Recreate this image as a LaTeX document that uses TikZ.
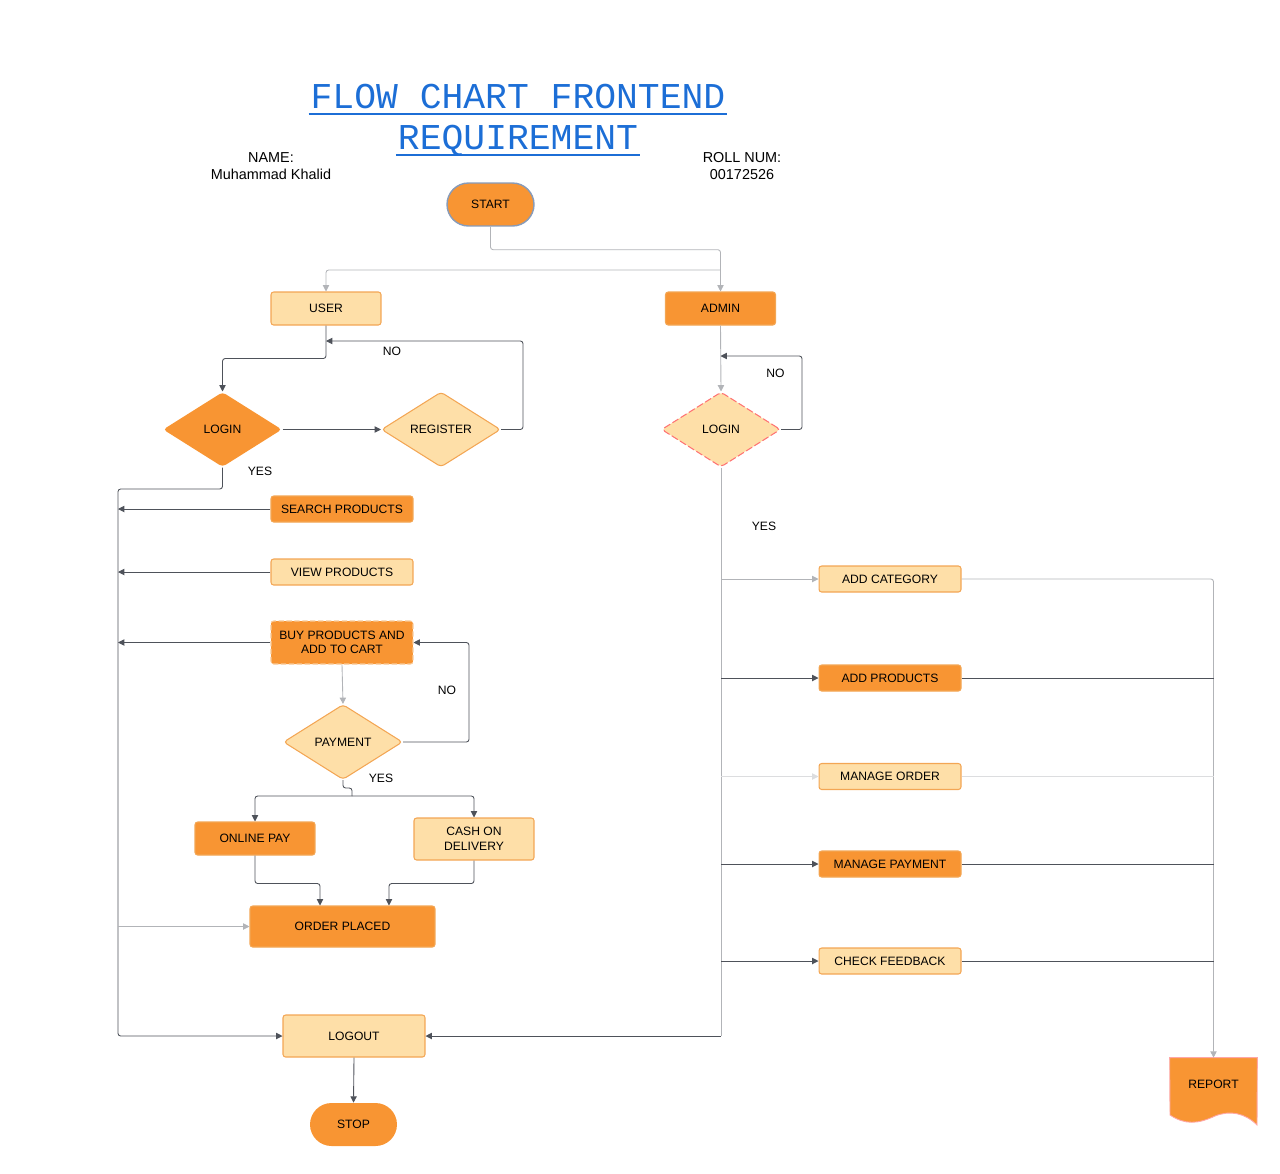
\documentclass[tikz,border=0pt]{standalone}
\usepackage{fontspec}
\setmainfont{Liberation Sans}
\newfontfamily\titlefont{Liberation Mono}
\usetikzlibrary{arrows.meta,shapes.geometric,positioning}
\definecolor{flowhot}{RGB}{248,149,51}
\definecolor{flowpale}{RGB}{254,223,168}
\definecolor{edgeorange}{RGB}{243,166,84}
\definecolor{linkdark}{RGB}{78,82,90}
\definecolor{linkfaint}{RGB}{178,180,184}
\definecolor{titleblue}{RGB}{28,110,214}
\definecolor{startedge}{RGB}{135,155,185}

\begin{document}
\begin{tikzpicture}[x=0.02cm,y=-0.02cm,>={Triangle[length=3.6pt,width=3.6pt]},
  font=\fontsize{6.9}{8.3}\selectfont,
  box/.style={rectangle,rounded corners=1.5pt,draw=edgeorange,line width=0.6pt,inner sep=1pt,align=center},
  hot/.style={box,fill=flowhot},
  pale/.style={box,fill=flowpale},
  terminal/.style={rectangle,rounded corners=0.43cm,fill=flowhot,minimum width=1.74cm,minimum height=0.86cm},
  decision/.style={diamond,aspect=1.6,rounded corners=2pt,line width=0.6pt,minimum width=2.38cm,minimum height=1.5cm,inner sep=0pt},
  slim/.style={minimum width=2.84cm,minimum height=0.52cm},
  link/.style={draw=linkdark,line width=0.5pt,rounded corners=1.5pt},
  faint/.style={link,draw=linkfaint},
  heading/.style={font=\titlefont\fontsize{20.7}{24}\selectfont,text=titleblue,inner sep=1pt,anchor=base},
  titleline/.style={draw=titleblue,line width=1pt}]
  \useasboundingbox (0,0) rectangle (1280,1173);
  % heading
  \node[heading] (titleA) at (518,108) {FLOW CHART FRONTEND};
  \node[heading] (titleB) at (518,149) {REQUIREMENT};
  \draw[titleline] ([yshift=-0.12cm]titleA.base west) -- ([yshift=-0.12cm]titleA.base east);
  \draw[titleline] ([yshift=-0.12cm]titleB.base west) -- ([yshift=-0.12cm]titleB.base east);
  \node[align=center,font=\fontsize{8.2}{9.7}\selectfont] (student) at (271,166) {NAME:\\Muhammad Khalid};
  \node[align=center,font=\fontsize{8.2}{9.7}\selectfont] (rollnum) at (742,166) {ROLL NUM:\\00172526};
  % start and the two roles
  \node[terminal,draw=startedge,line width=0.8pt] (start) at (490.5,204.5) {START};
  \node[pale,minimum width=2.2cm,minimum height=0.66cm] (user) at (326,308.5) {USER};
  \node[hot,minimum width=2.2cm,minimum height=0.66cm] (admin) at (720.5,308.5) {ADMIN};
  % user side
  \node[decision,fill=flowhot] (ulogin) at (222.5,429.5) {LOGIN};
  \node[decision,fill=flowpale,draw=edgeorange] (register) at (441,429.5) {REGISTER};
  \node[hot,slim] (search) at (342,509) {SEARCH PRODUCTS};
  \node[pale,slim] (view) at (342,572) {VIEW PRODUCTS};
  \node[hot,slim,minimum height=0.86cm,draw=edgeorange!60,dash pattern=on 3pt off 1.5pt] (buy) at (342,642.5) {BUY PRODUCTS AND\\ADD TO CART};
  \node[decision,fill=flowpale,draw=edgeorange] (payment) at (343,742) {PAYMENT};
  \node[hot,minimum width=2.4cm,minimum height=0.66cm] (online) at (255,838.5) {ONLINE PAY};
  \node[pale,minimum width=2.4cm,minimum height=0.84cm] (cod) at (474,839) {CASH ON\\DELIVERY};
  \node[hot,minimum width=3.7cm,minimum height=0.82cm] (placed) at (342.5,926.5) {ORDER PLACED};
  \node[pale,minimum width=2.84cm,minimum height=0.84cm] (logout) at (354,1036) {LOGOUT};
  \node[terminal] (stop) at (353.5,1124.5) {STOP};
  % admin side
  \node[decision,fill=flowpale,draw=red!55,dash pattern=on 4pt off 1.5pt] (alogin) at (721,429.5) {LOGIN};
  \node[pale,slim] (addcat) at (890,579) {ADD CATEGORY};
  \node[hot,slim] (addprod) at (890,678) {ADD PRODUCTS};
  \node[pale,slim] (morder) at (890,776.5) {MANAGE ORDER};
  \node[hot,slim] (mpay) at (890,864) {MANAGE PAYMENT};
  \node[pale,slim] (feedback) at (890,961) {CHECK FEEDBACK};
  % report: document shape
  \node[minimum width=1.74cm,minimum height=1.34cm,inner sep=0pt] (report) at (1213.5,1091.5) {};
  \filldraw[fill=flowhot,draw=red!35,line width=0.5pt] (report.north west) -- (report.north east) -- (1257,1125)
    .. controls (1245,1113) and (1230,1110) .. (1215,1116) .. controls (1198,1124) and (1185,1125) .. (1170,1115) -- cycle;
  \node (reportname) at (1213.5,1084.5) {REPORT};
  % helper points
  \coordinate (railtop) at (118,489);
  \coordinate (userback) at (326,341);
  \coordinate (adminback) at (720.5,356);
  \coordinate (split) at (352,796);
  % connectors
  \draw[faint,->] (start.south) -- ++(0,23) -| (admin.north);
  \draw[faint,->] (admin.north |- 0,270) -| (user.north);
  \draw[link,->] (user.south) -- ++(0,33) -| (ulogin.north);
  \draw[link,->] (ulogin.east) -- (register.west);
  \draw[link,->] (register.east) -- ++(22,0) |- (userback);
  \draw[link,->] (ulogin.south) |- (railtop) |- (logout.west);
  \draw[link,->] (search.west) -- (railtop |- search.west);
  \draw[link,->] (view.west) -- (railtop |- view.west);
  \draw[link,->] (buy.west) -- (railtop |- buy.west);
  \draw[faint,->] (railtop |- placed.west) -- (placed.west);
  \draw[faint,->] (buy.south) -- (payment.north);
  \draw[link,->] (payment.east) -- ++(66,0) |- (buy.east);
  \draw[link] (payment.south) -- ++(0,8) -| (split);
  \draw[link,->] (split) -| (online.north);
  \draw[link,->] (split) -| (cod.north);
  \draw[link,->] (online.south) -- ++(0,28) -| ([xshift=-0.45cm]placed.north);
  \draw[link,->] (cod.south) -- ++(0,23) -| ([xshift=0.93cm]placed.north);
  \draw[link,->] (logout.south) -- (stop.north);
  \draw[faint,->] (admin.south) -- (alogin.north);
  \draw[link,->] (alogin.east) -- ++(21,0) |- (adminback);
  \draw[faint] (alogin.south) -- (alogin.south |- logout.east);
  \draw[link,->] (alogin.south |- logout.east) -- (logout.east);
  \draw[faint,->] (alogin.south |- addcat.west) -- (addcat.west);
  \draw[link,->] (alogin.south |- addprod.west) -- (addprod.west);
  \draw[faint,draw=linkfaint!45,->] (alogin.south |- morder.west) -- (morder.west);
  \draw[link,->] (alogin.south |- mpay.west) -- (mpay.west);
  \draw[link,->] (alogin.south |- feedback.west) -- (feedback.west);
  \draw[faint,->] (addcat.east) -| (report.north);
  \draw[link] (addprod.east) -- (report.north |- addprod.east);
  \draw[faint,draw=linkfaint!45] (morder.east) -- (report.north |- morder.east);
  \draw[link] (mpay.east) -- (report.north |- mpay.east);
  \draw[link] (feedback.east) -- (report.north |- feedback.east);
  % yes / no tags
  \node (noA) at (392,351) {NO};
  \node (yesA) at (260,471) {YES};
  \node (noB) at (775.5,373) {NO};
  \node (yesB) at (764,526) {YES};
  \node (noC) at (447,690) {NO};
  \node (yesC) at (381,778) {YES};
\end{tikzpicture}
\end{document}
